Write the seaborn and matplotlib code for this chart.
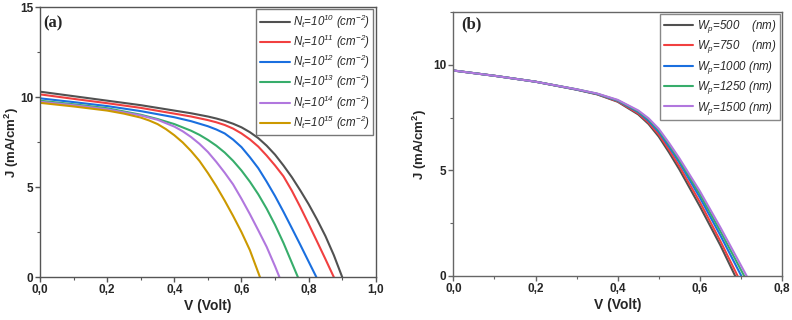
import matplotlib
matplotlib.use("Agg")
import matplotlib.pyplot as plt
import pandas as pd
import seaborn as sns
from matplotlib.ticker import FuncFormatter, MultipleLocator

# ---- panel (a): trap density N_t ----
NT_LABELS = [r"$N_t$=10$^{10}$ (cm$^{-2}$)",
             r"$N_t$=10$^{11}$ (cm$^{-2}$)",
             r"$N_t$=10$^{12}$ (cm$^{-2}$)",
             r"$N_t$=10$^{13}$ (cm$^{-2}$)",
             r"$N_t$=10$^{14}$ (cm$^{-2}$)",
             r"$N_t$=10$^{15}$ (cm$^{-2}$)"]

v_nt10 = [0, .1, .2, .3, .4, .45, .5, .525, .55, .575, .6, .625, .65, .675, .7, .725, .75,
          .775, .8, .825, .85, .875, .9]
j_nt10 = [10.3, 10.05, 9.8, 9.55, 9.25, 9.1, 8.92, 8.81, 8.68, 8.52, 8.32, 8.05, 7.72, 7.3,
          6.8, 6.2, 5.55, 4.82, 4.05, 3.2, 2.28, 1.22, 0]
v_nt11 = [0, .1, .2, .3, .4, .45, .5, .525, .55, .575, .6, .625, .65, .675, .7, .725, .75,
          .775, .8, .825, .85, .875]
j_nt11 = [10.15, 9.9, 9.66, 9.4, 9.08, 8.92, 8.72, 8.6, 8.45, 8.25, 7.98, 7.65, 7.25, 6.75,
          6.2, 5.6, 4.8, 3.9, 2.95, 1.98, 1.0, 0]
v_nt12 = [0, .1, .2, .3, .4, .45, .5, .525, .55, .575, .6, .625, .65, .675, .7, .725, .75,
          .775, .8, .823]
j_nt12 = [9.93, 9.72, 9.5, 9.22, 8.88, 8.66, 8.38, 8.2, 7.98, 7.64, 7.22, 6.66, 6.05, 5.3,
          4.5, 3.63, 2.72, 1.8, 0.86, 0]
v_nt13 = [0, .1, .2, .3, .35, .4, .45, .475, .5, .525, .55, .575, .6, .625, .65, .675, .7,
          .725, .768]
j_nt13 = [9.8, 9.6, 9.38, 9.02, 8.78, 8.5, 8.13, 7.9, 7.62, 7.3, 6.92, 6.46, 5.92, 5.3, 4.6,
          3.8, 2.9, 1.9, 0]
v_nt14 = [0, .1, .2, .3, .35, .4, .425, .45, .475, .5, .525, .55, .575, .6, .625, .65, .675,
          .7, .713]
j_nt14 = [9.74, 9.55, 9.32, 8.98, 8.74, 8.36, 8.1, 7.78, 7.4, 6.95, 6.4, 5.8, 5.15, 4.35,
          3.5, 2.6, 1.68, 0.6, 0]
v_nt15 = [0, .1, .2, .25, .3, .325, .35, .375, .4, .425, .45, .475, .5, .525, .55, .575, .6,
          .625, .655]
j_nt15 = [9.68, 9.48, 9.25, 9.08, 8.86, 8.7, 8.5, 8.22, 7.88, 7.48, 7.0, 6.45, 5.78, 5.05,
          4.25, 3.4, 2.5, 1.5, 0]

# ---- panel (b): absorber thickness W_p ----
WP_LABELS = [r"$W_p$=500    (nm)", r"$W_p$=750    (nm)",
             r"$W_p$=1000 (nm)", r"$W_p$=1250 (nm)", r"$W_p$=1500 (nm)"]

v_wp500 = [0, .1, .2, .3, .35, .4, .45, .475, .5, .525, .55, .6, .65, .686]
j_wp500 = [9.73, 9.48, 9.2, 8.82, 8.6, 8.25, 7.65, 7.2, 6.6, 5.85, 5.05, 3.3, 1.45, 0]
v_wp750 = [0, .1, .2, .3, .35, .4, .45, .475, .5, .525, .55, .6, .65, .692]
j_wp750 = [9.73, 9.48, 9.2, 8.83, 8.61, 8.27, 7.7, 7.27, 6.7, 5.98, 5.2, 3.5, 1.65, 0]
v_wp1000 = [0, .1, .2, .3, .35, .4, .45, .475, .5, .525, .55, .6, .65, .701]
j_wp1000 = [9.73, 9.48, 9.2, 8.83, 8.62, 8.3, 7.76, 7.35, 6.82, 6.12, 5.38, 3.72, 1.92, 0]
v_wp1250 = [0, .1, .2, .3, .35, .4, .45, .475, .5, .525, .55, .6, .65, .708]
j_wp1250 = [9.73, 9.48, 9.2, 8.84, 8.63, 8.32, 7.8, 7.42, 6.9, 6.22, 5.48, 3.88, 2.12, 0]
v_wp1500 = [0, .1, .2, .3, .35, .4, .45, .475, .5, .525, .55, .6, .65, .714]
j_wp1500 = [9.73, 9.48, 9.2, 8.84, 8.64, 8.34, 7.84, 7.47, 6.97, 6.3, 5.58, 4.02, 2.3, 0]

COLORS_A = ["#515151", "#F14040", "#1A6FDF", "#37AD6B", "#B177DE", "#CC9900"]
COLORS_B = COLORS_A[:5]


def to_long(vs, js, labels):
    parts = []
    for v, j, lab in zip(vs, js, labels):
        parts.append(pd.DataFrame({"V": v, "J": j, "series": lab}))
    return pd.concat(parts, ignore_index=True)


def comma_fmt(x, pos):
    return f"{x:.1f}".replace(".", ",")


def style_axes(ax, spine_color, ylabel_x):
    for s in ax.spines.values():
        s.set_visible(True)
        s.set_color(spine_color)
        s.set_linewidth(1.0)
    ax.tick_params(which="both", direction="out", color=spine_color, top=False, right=False)
    ax.tick_params(which="major", length=3.5, width=1.0, labelsize=8.5, pad=1.5)
    ax.tick_params(which="minor", length=2.2, width=0.8)
    ax.xaxis.set_major_formatter(FuncFormatter(comma_fmt))
    for lab in ax.get_xticklabels() + ax.get_yticklabels():
        lab.set_fontweight("bold")
    ax.set_xlabel("V (Volt)", fontsize=10, fontweight="bold", labelpad=2)
    ax.set_ylabel(r"J (mA/cm$^\mathbf{2}$)", fontsize=9.5, fontweight="bold")
    ax.yaxis.set_label_coords(ylabel_x, 0.5)


def add_legend(ax, edge, spacing):
    leg = ax.legend(loc="upper right", prop={"size": 8.3, "style": "italic"}, frameon=True,
                    fancybox=False, edgecolor=edge, framealpha=1, borderpad=0.3,
                    labelspacing=spacing, handlelength=2.6, handletextpad=0.3,
                    borderaxespad=0.2)
    leg.get_frame().set_linewidth(1.0)


def main() -> None:
    sns.set_theme(style="ticks")
    plt.rcParams["font.family"] = ["Liberation Sans", "DejaVu Sans"]
    plt.rcParams["mathtext.fontset"] = "custom"
    plt.rcParams["mathtext.it"] = "Liberation Sans:italic"
    plt.rcParams["mathtext.rm"] = "Liberation Sans:italic"
    plt.rcParams["mathtext.bf"] = "Liberation Sans:bold"
    plt.rcParams["axes.unicode_minus"] = False

    df_a = to_long([v_nt10, v_nt11, v_nt12, v_nt13, v_nt14, v_nt15],
                   [j_nt10, j_nt11, j_nt12, j_nt13, j_nt14, j_nt15], NT_LABELS)
    df_b = to_long([v_wp500, v_wp750, v_wp1000, v_wp1250, v_wp1500],
                   [j_wp500, j_wp750, j_wp1000, j_wp1250, j_wp1500], WP_LABELS)

    fig = plt.figure(figsize=(7.92, 3.2), dpi=100)
    ax_a = fig.add_axes([0.0505, 0.134, 0.424, 0.844])
    ax_b = fig.add_axes([0.5724, 0.1375, 0.415, 0.825])

    # panel (a)
    sns.lineplot(data=df_a, x="V", y="J", hue="series", palette=COLORS_A, sort=False,
                 estimator=None, linewidth=1.5, ax=ax_a)
    ax_a.set_xlim(0, 1.0)
    ax_a.set_ylim(0, 15)
    ax_a.xaxis.set_major_locator(MultipleLocator(0.2))
    ax_a.xaxis.set_minor_locator(MultipleLocator(0.1))
    ax_a.yaxis.set_major_locator(MultipleLocator(5))
    ax_a.yaxis.set_minor_locator(MultipleLocator(2.5))
    style_axes(ax_a, "#555555", -0.058)
    add_legend(ax_a, "#777777", 0.17)
    ax_a.text(0.01, 0.97, "(a)", transform=ax_a.transAxes, ha="left", va="top",
              fontsize=12, fontweight="bold", family="Liberation Serif")

    # panel (b)
    sns.lineplot(data=df_b, x="V", y="J", hue="series", palette=COLORS_B, sort=False,
                 estimator=None, linewidth=1.5, ax=ax_b)
    ax_b.set_xlim(0, 0.8)
    ax_b.set_ylim(0, 12.5)
    ax_b.xaxis.set_major_locator(MultipleLocator(0.2))
    ax_b.xaxis.set_minor_locator(MultipleLocator(0.1))
    ax_b.yaxis.set_major_locator(MultipleLocator(5))
    ax_b.yaxis.set_minor_locator(MultipleLocator(2.5))
    style_axes(ax_b, "#666666", -0.075)
    add_legend(ax_b, "#888888", 0.3)
    ax_b.text(0.025, 0.985, "(b)", transform=ax_b.transAxes, ha="left", va="top",
              fontsize=12, fontweight="bold", family="Liberation Serif")

    fig.savefig("out.png", dpi=100)
    plt.close(fig)


if __name__ == "__main__":
    main()
